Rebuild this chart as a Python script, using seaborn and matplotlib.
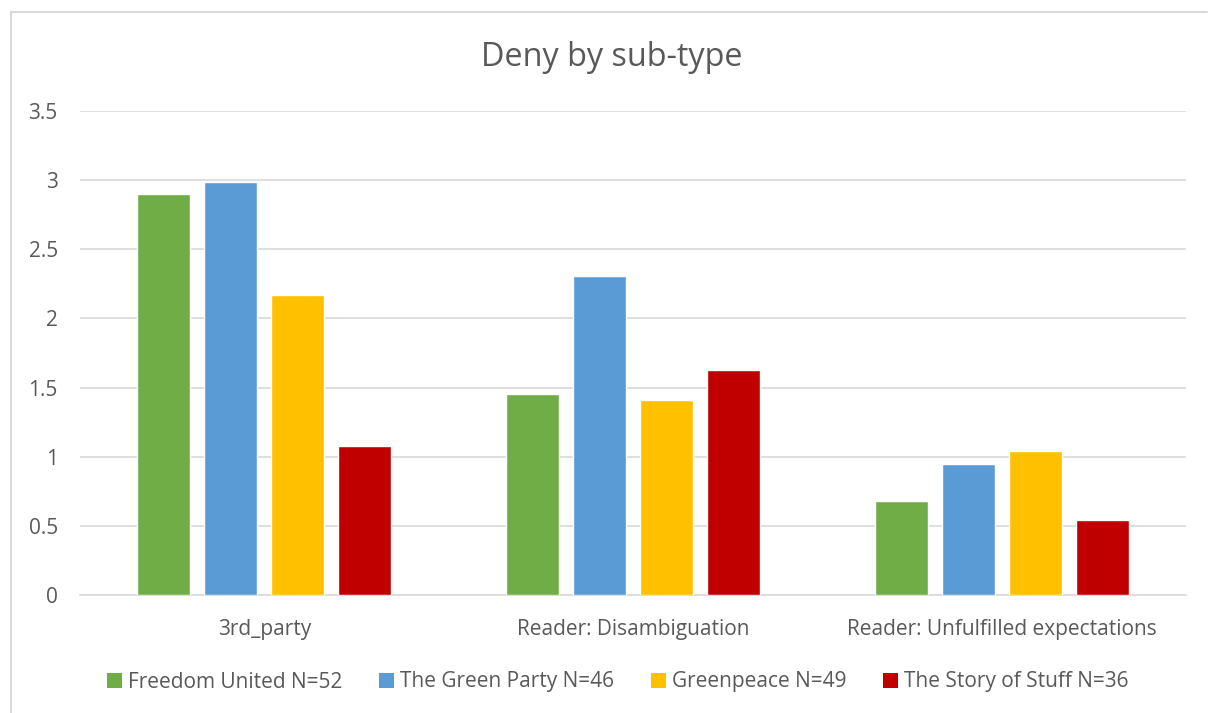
import matplotlib
matplotlib.use("Agg")
import matplotlib.pyplot as plt
import seaborn as sns
import pandas as pd
from matplotlib.lines import Line2D
from matplotlib.patches import Patch

categories = ["3rd_party", "Reader: Disambiguation", "Reader: Unfulfilled expectations"]
series = ["Freedom United N=52", "The Green Party N=46", "Greenpeace N=49", "The Story of Stuff N=36"]
freedom_united = [2.90, 1.45, 0.68]
green_party = [2.99, 2.31, 0.95]
greenpeace = [2.17, 1.41, 1.04]
story_of_stuff = [1.08, 1.63, 0.54]
colors = ["#70AD47", "#5B9BD5", "#FFC000", "#C00000"]
yticks = [0, 0.5, 1, 1.5, 2, 2.5, 3, 3.5]
ytick_labels = ["0", "0.5", "1", "1.5", "2", "2.5", "3", "3.5"]

rows = []
for name, vals in zip(series, [freedom_united, green_party, greenpeace, story_of_stuff]):
    for c, v in zip(categories, vals):
        rows.append({"category": c, "series": name, "value": v})
df = pd.DataFrame(rows)

sns.set_theme(style="white")
plt.rcParams["font.family"] = ["Open Sans", "DejaVu Sans"]
text_color = "#595959"

fig = plt.figure(figsize=(12.08, 7.13), dpi=100)
ax = fig.add_axes([80/1208, 1-595/713, (1186-80)/1208, (595-111)/713])

sns.barplot(data=df, x="category", y="value", hue="series", order=categories,
            hue_order=series, palette=colors, width=0.728, gap=0.21,
            saturation=1, ax=ax, legend=False, errorbar=None, zorder=3)

ax.set_xlim(-0.5, 2.5)
ax.set_ylim(0, 3.5)
ax.set_yticks(yticks)
ax.set_yticklabels(ytick_labels)
ax.yaxis.grid(True, color="#D9D9D9", linewidth=1.2, zorder=0)
ax.set_axisbelow(True)
for s in ["top", "right", "left"]:
    ax.spines[s].set_visible(False)
ax.spines["bottom"].set_color("#D9D9D9")
ax.spines["bottom"].set_linewidth(1.2)
ax.tick_params(axis="both", length=0, labelsize=15, colors=text_color)
ax.tick_params(axis="y", pad=16)
ax.tick_params(axis="x", pad=17)
ax.set_xlabel("")
ax.set_ylabel("")

fig.text(612/1208, 1-57/713, "Deny by sub-type", ha="center", va="center",
         fontsize=23.3, color=text_color)

handles = [Patch(facecolor=c, edgecolor="none", label=s) for c, s in zip(colors, series)]
fig.legend(handles=handles, loc="center", bbox_to_anchor=(618/1208, 1-682/713), ncol=4,
           frameon=False, fontsize=15, labelcolor=text_color, handlelength=0.72,
           handleheight=0.72, handletextpad=0.3, columnspacing=1.75)

# chart border (left and top edges visible)
fig.add_artist(Line2D([10.5/1208, 10.5/1208], [0, 1-11.5/713], color="#D9D9D9", lw=1.5))
fig.add_artist(Line2D([10.5/1208, 1207/1208], [1-11.5/713, 1-11.5/713], color="#D9D9D9", lw=1.5))

fig.savefig("out.png", dpi=100, facecolor="white")
